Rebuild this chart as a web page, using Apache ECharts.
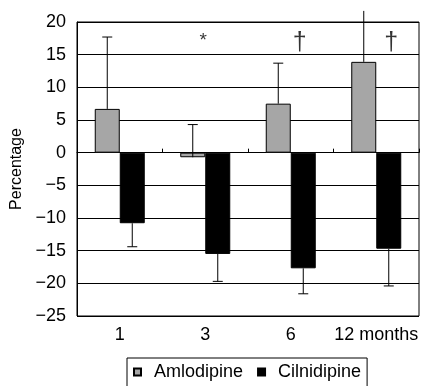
<!DOCTYPE html>
<html>
<head>
<meta charset="utf-8">
<script src="https://cdn.jsdelivr.net/npm/echarts@6/dist/echarts.min.js"></script>
<style>
html,body{margin:0;padding:0;background:#fff;}
#c{width:423px;height:386px;}
</style>
</head>
<body>
<div id="c"></div>
<script>
const categories = ['1', '3', '6', '12 months'];
const amlodipine = [6.7, -0.7, 7.5, 13.9];
const amlodipineErr = [17.7, 4.3, 13.7, 21.7];
const cilnidipine = [-10.8, -15.5, -17.7, -14.7];
const cilnidipineErr = [-14.4, -19.7, -21.6, -20.4];
const annotations = [['3', 17.2, '*'], ['6', 16.8, '\u2020'], ['12 months', 16.8, '\u2020']];
const yTicks = { min: -25, max: 20, interval: 5 };

const FONT = 'Liberation Sans, Arial, sans-serif';
const chart = echarts.init(document.getElementById('c'));

function errSeries(name, vals, errs, side) {
  return {
    type: 'custom',
    name: name + ' err',
    clip: false,
    z: 5,
    silent: true,
    data: vals.map((v, i) => [i, v, errs[i]]),
    renderItem: function (params, api) {
      const idx = api.value(0);
      const base = api.coord([idx, api.value(1)]);
      const tip = api.coord([idx, api.value(2)]);
      const x = base[0] + side * 12.5;
      const children = [{
        type: 'line',
        shape: { x1: x, y1: base[1], x2: x, y2: tip[1] },
        style: { stroke: '#000', lineWidth: 1 }
      }];
      if (api.value(2) <= yTicks.max) {
        children.push({
          type: 'line',
          shape: { x1: x - 5, y1: tip[1], x2: x + 5, y2: tip[1] },
          style: { stroke: '#000', lineWidth: 1 }
        });
      }
      return { type: 'group', children: children };
    }
  };
}

const annOffsets = [-2, 9, 15];

chart.setOption({
  animation: false,
  grid: { left: 77, right: 4, top: 22, bottom: 70, show: true, borderColor: '#000', borderWidth: 1 },
  legend: {
    data: ['Amlodipine', 'Cilnidipine'],
    left: 127, top: 358,
    borderColor: '#000', borderWidth: 1,
    padding: [5, 6, 8, 6],
    itemWidth: 7, itemHeight: 7, itemGap: 14,
    icon: 'rect',
    textStyle: { fontFamily: FONT, fontSize: 18, color: '#000', padding: [0, 0, 0, 8] }
  },
  xAxis: [{
    type: 'category',
    data: categories,
    position: 'bottom',
    axisLine: { onZero: false, show: false },
    axisTick: { show: false },
    axisLabel: { interval: 0, fontFamily: FONT, fontSize: 18, color: '#000', margin: 10 }
  }, {
    type: 'category',
    data: categories,
    position: 'bottom',
    axisLine: { onZero: true, show: true, lineStyle: { color: '#000' } },
    axisTick: { show: true, inside: true, length: 4, lineStyle: { color: '#000' } },
    axisLabel: { show: false }
  }],
  yAxis: {
    type: 'value',
    min: yTicks.min, max: yTicks.max, interval: yTicks.interval,
    name: 'Percentage',
    nameLocation: 'middle',
    nameGap: 50,
    nameTextStyle: { fontFamily: FONT, fontSize: 16, color: '#000' },
    axisLine: { show: true, lineStyle: { color: '#000' } },
    axisTick: { show: false },
    splitLine: { show: true, lineStyle: { color: '#000', width: 1 } },
    axisLabel: {
      fontFamily: FONT, fontSize: 18, color: '#000', margin: 11,
      formatter: v => String(v).replace('-', '\u2212')
    }
  },
  series: [{
    name: 'Amlodipine',
    type: 'bar',
    data: amlodipine,
    barWidth: 25,
    barGap: '0%',
    itemStyle: { color: '#a6a6a6', borderColor: '#000', borderWidth: 1 }
  }, {
    name: 'Cilnidipine',
    type: 'bar',
    data: cilnidipine,
    barWidth: 25,
    barGap: '0%',
    itemStyle: { color: '#000', borderColor: '#000', borderWidth: 1 }
  },
  errSeries('Amlodipine', amlodipine, amlodipineErr, -1),
  errSeries('Cilnidipine', cilnidipine, cilnidipineErr, 1),
  {
    type: 'scatter',
    name: 'annotations',
    symbolSize: 0,
    silent: true,
    data: annotations.map((a, i) => ({
      value: [a[0], a[1]],
      label: {
        show: true, formatter: a[2], position: 'inside',
        offset: [annOffsets[i], 0],
        fontFamily: FONT, fontSize: a[2] === '*' ? 19 : 25, color: '#000'
      }
    }))
  }]
});
</script>
</body>
</html>
